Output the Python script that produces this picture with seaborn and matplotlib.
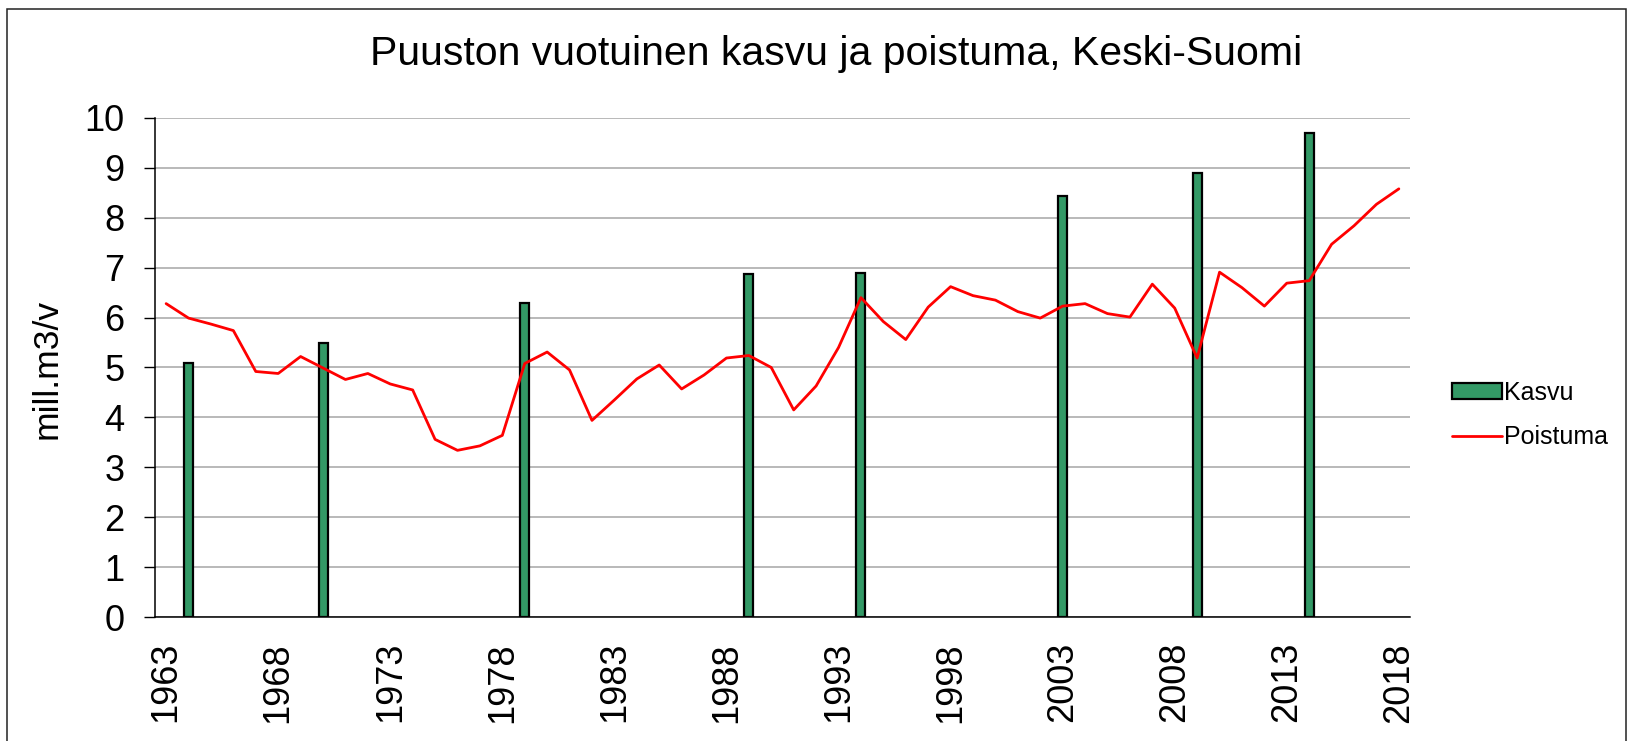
import numpy as np
import pandas as pd
import matplotlib
matplotlib.use("Agg")
import matplotlib.pyplot as plt
from matplotlib.patches import Rectangle
import seaborn as sns

# --- data ---
years = list(range(1963, 2019))
poistuma = [6.28, 5.99, 5.87, 5.74, 4.92, 4.88, 5.22, 4.99, 4.76, 4.88,
            4.67, 4.55, 3.56, 3.34, 3.43, 3.64, 5.08, 5.31, 4.95, 3.94,
            4.35, 4.77, 5.05, 4.57, 4.85, 5.19, 5.24, 5.00, 4.15, 4.63,
            5.40, 6.40, 5.92, 5.56, 6.21, 6.62, 6.44, 6.35, 6.12, 5.99,
            6.23, 6.28, 6.08, 6.01, 6.67, 6.19, 5.19, 6.91, 6.60, 6.23,
            6.69, 6.74, 7.47, 7.84, 8.27, 8.58]
kasvu_years = [1964, 1970, 1979, 1989, 1994, 2003, 2009, 2014]
kasvu = [5.1, 5.5, 6.3, 6.87, 6.9, 8.43, 8.9, 9.7]
tick_years = list(range(1963, 2019, 5))

sns.set_style("white")
plt.rcParams['font.family'] = ['Liberation Sans', 'DejaVu Sans']
plt.rcParams['text.color'] = 'black'
plt.rcParams['xtick.color'] = 'black'
plt.rcParams['ytick.color'] = 'black'

fig = plt.figure(figsize=(16.29, 7.41), dpi=100)
ax = fig.add_axes([0.0951, 0.1673, 0.7705, 0.6735])

order = [str(y) for y in years]
df_bar = pd.DataFrame({'vuosi': [str(y) for y in kasvu_years], 'kasvu': kasvu})
sns.barplot(data=df_bar, x='vuosi', y='kasvu', order=order, ax=ax,
            color='#339966', saturation=1, width=0.4,
            edgecolor='black', linewidth=1.6, label='Kasvu', zorder=3)

df_line = pd.DataFrame({'pos': np.arange(len(years)), 'poistuma': poistuma})
sns.lineplot(data=df_line, x='pos', y='poistuma', ax=ax, color='#ff0000',
             linewidth=2.0, label='Poistuma', zorder=4)

ax.set_xlim(-0.5, len(years) - 0.5)
ax.set_ylim(0, 10)
ax.set_yticks(range(0, 11))
ax.set_xticks([years.index(y) for y in tick_years])
ax.set_xticklabels([str(y) for y in tick_years], rotation=90)
ax.tick_params(axis='y', labelsize=26, length=8, width=1, direction='out',
               pad=14, left=True, color='black', labelcolor='black')
ax.tick_params(axis='x', labelsize=26, length=0, pad=18, labelcolor='black')
ax.set_xlabel('')
ax.set_ylabel('')

ax.grid(axis='y', color='#a6a6a6', linewidth=1.1, zorder=0)
ax.set_axisbelow(True)
for s in ['top', 'right']:
    ax.spines[s].set_visible(False)
for s in ['left', 'bottom']:
    ax.spines[s].set_color('black')
    ax.spines[s].set_linewidth(1.1)

if ax.legend_:
    ax.legend_.remove()
handles, labels = ax.get_legend_handles_labels()
# Kasvu first, then Poistuma
pairs = sorted(zip(handles, labels), key=lambda p: 0 if p[1] == 'Kasvu' else 1)
fig.legend([p[0] for p in pairs], [p[1] for p in pairs],
           loc='center left', bbox_to_anchor=(0.885, 0.44),
           frameon=False, fontsize=18, handlelength=2.0, handleheight=0.6,
           handletextpad=0.1, labelspacing=0.8, borderaxespad=0,
           labelcolor='black')

fig.text(0.513, 0.927, 'Puuston vuotuinen kasvu ja poistuma, Keski-Suomi',
         ha='center', va='center', fontsize=29.5, color='black')
fig.text(0.029, 0.502, 'mill.m3/v', ha='center', va='center',
         rotation=90, fontsize=25.5, color='black')

fig.patches.append(Rectangle((0.0043, -0.01), 0.9939, 0.9979,
                             transform=fig.transFigure, fill=False,
                             edgecolor='#222222', linewidth=1.1))

fig.savefig('out.png', dpi=100)
